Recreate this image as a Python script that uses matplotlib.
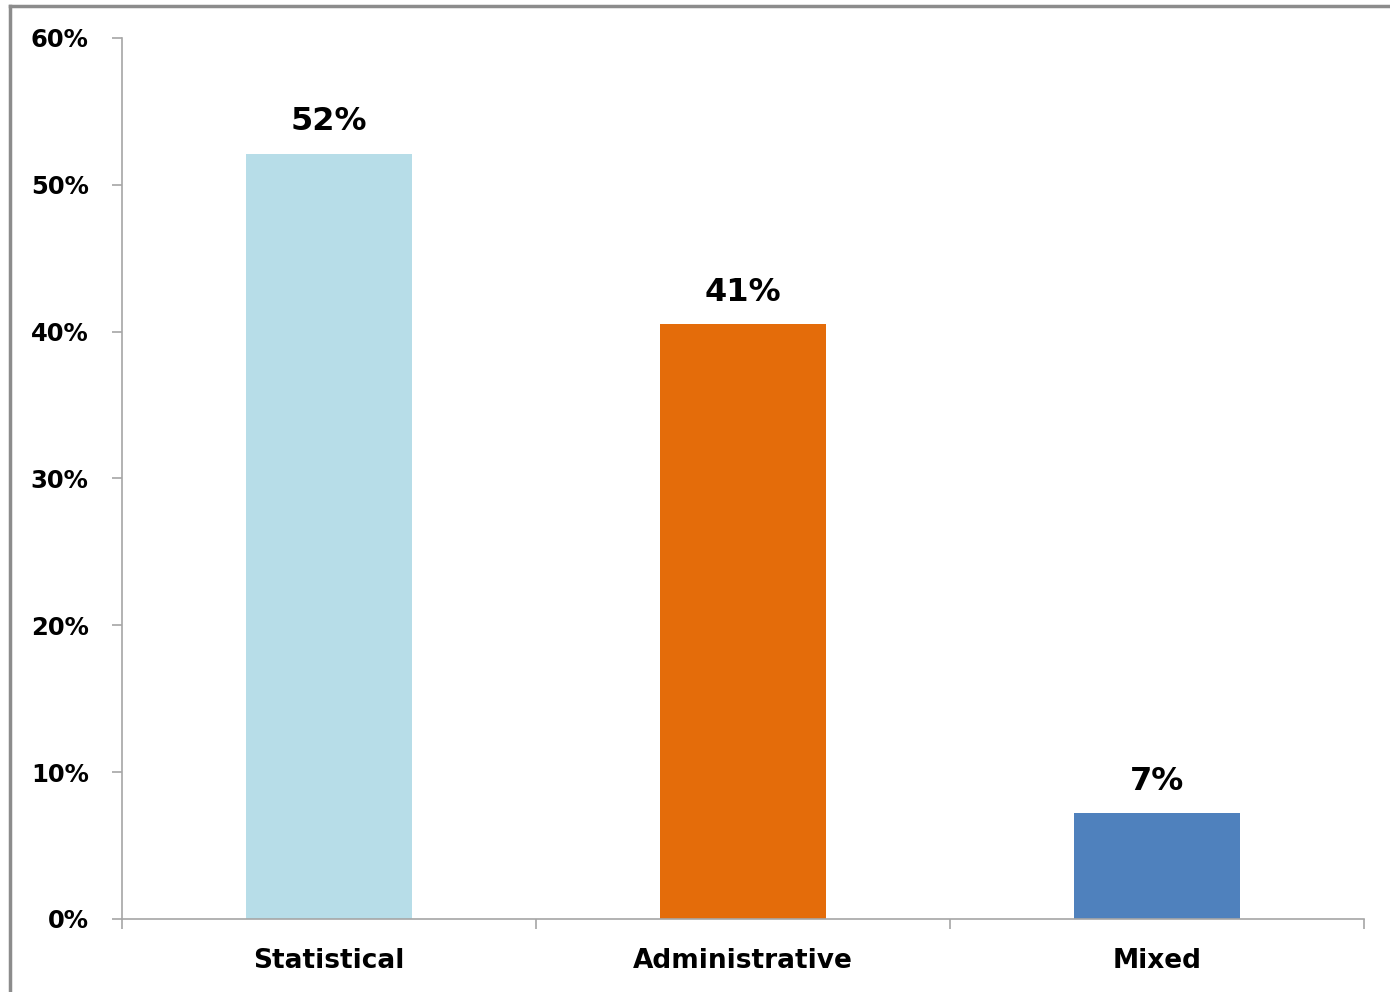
import numpy as np
import matplotlib.pyplot as plt
from matplotlib.lines import Line2D

# --- Daten ---
kategorien = ["Statistical", "Administrative", "Mixed"]
anteile = [0.521, 0.405, 0.072]
beschriftungen = ["52%", "41%", "7%"]
farben = ["#B7DDE8", "#E46C0A", "#4F81BD"]

y_ticks = [0, 0.1, 0.2, 0.3, 0.4, 0.5, 0.6]
y_tick_labels = ["0%", "10%", "20%", "30%", "40%", "50%", "60%"]

achsfarbe = "#A6A6A6"

fig = plt.figure(figsize=(13.9, 9.92), dpi=100)
ax = fig.add_axes([0.0878, 0.0736, 0.8935, 0.8881])

x = np.arange(len(kategorien))
balken = ax.bar(x, anteile, width=0.4, color=farben)

# Werte über den Balken
for b, text in zip(balken, beschriftungen):
    ax.annotate(text, (b.get_x() + b.get_width() / 2, b.get_height()),
                xytext=(0, 12), textcoords="offset points",
                ha="center", va="bottom", fontsize=23, fontweight="bold")

ax.set_xlim(-0.5, len(kategorien) - 0.5)
ax.set_ylim(0, 0.6)

ax.set_yticks(y_ticks)
ax.set_yticklabels(y_tick_labels, fontsize=17.5, fontweight="bold")
ax.tick_params(axis="y", length=7, width=1.2, color=achsfarbe, pad=17)

# Kategorien in der Mitte, Striche an den Grenzen
ax.set_xticks(x)
ax.set_xticklabels(kategorien, fontsize=19, fontweight="bold")
ax.set_xticks(np.arange(len(kategorien) + 1) - 0.5, minor=True)
ax.tick_params(axis="x", which="major", length=0, pad=21)
ax.tick_params(axis="x", which="minor", length=7, width=1.2, color=achsfarbe)

for s in ["top", "right"]:
    ax.spines[s].set_visible(False)
for s in ["left", "bottom"]:
    ax.spines[s].set_color(achsfarbe)
    ax.spines[s].set_linewidth(1.2)

# grauer Rahmen (oben und links)
fig.add_artist(Line2D([0.0072, 1.0], [0.9935, 0.9935], transform=fig.transFigure,
                      color="#8C8C8C", linewidth=2.5))
fig.add_artist(Line2D([0.0072, 0.0072], [0.0, 0.9935], transform=fig.transFigure,
                      color="#8C8C8C", linewidth=2.5))

plt.savefig("out.png", dpi=100)
